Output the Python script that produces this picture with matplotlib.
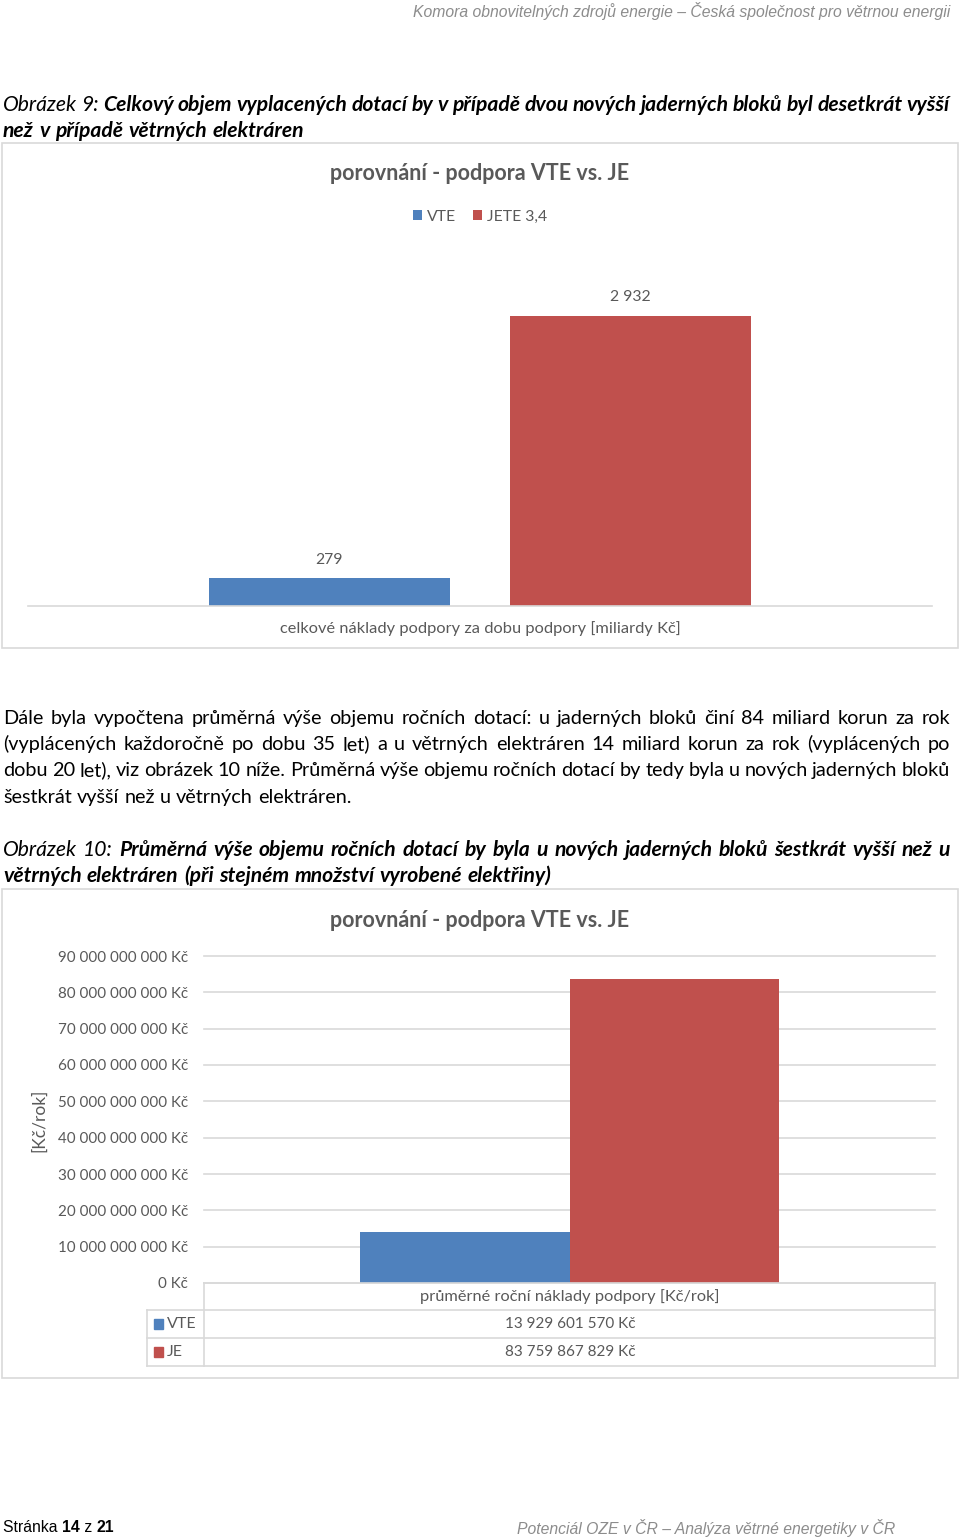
import numpy as np
import matplotlib
matplotlib.use("Agg")
import matplotlib.pyplot as plt
from matplotlib import font_manager
from matplotlib.patches import Rectangle
from matplotlib.lines import Line2D
from matplotlib.ticker import FuncFormatter

W, H = 960, 1538

# ---- data (chart 9: total support, chart 10: average yearly support) ----
TOTAL_SERIES = ["VTE", "JETE 3,4"]
TOTAL_BN = [279, 2932]
TOTAL_CAT = "celkové náklady podpory za dobu podpory [miliardy Kč]"

ANNUAL_SERIES = ["VTE", "JE"]
ANNUAL_KC = [13929601570, 83759867829]
ANNUAL_CAT = "průměrné roční náklady podpory [Kč/rok]"
ANNUAL_TICKS = [0, 1e10, 2e10, 3e10, 4e10, 5e10, 6e10, 7e10, 8e10, 9e10]

CHART_TITLE = "porovnání - podpora VTE vs. JE"
HEADER = "Komora obnovitelných zdrojů energie – Česká společnost pro větrnou energii"
FOOTER_R = "Potenciál OZE v ČR – Analýza větrné energetiky v ČR"
PARAGRAPH = [
    "Dále byla vypočtena průměrná výše objemu ročních dotací: u jaderných bloků činí 84 miliard korun za rok",
    "(vyplácených každoročně po dobu 35 let) a u větrných elektráren 14 miliard korun za rok (vyplácených po",
    "dobu 20 let), viz obrázek 10 níže. Průměrná výše objemu ročních dotací by tedy byla u nových jaderných bloků",
    "šestkrát vyšší než u větrných elektráren.",
]
CAP9 = ("Obrázek 9:", ["Celkový objem vyplacených dotací by v případě dvou nových jaderných bloků byl desetkrát vyšší",
                       "než v případě větrných elektráren"])
CAP10 = ("Obrázek 10:", ["Průměrná výše objemu ročních dotací by byla u nových jaderných bloků šestkrát vyšší než u",
                         "větrných elektráren (při stejném množství vyrobené elektřiny)"])

COLORS = ["#4F81BD", "#C0504D"]
GREY = "#595959"
LINE = "#D9D9D9"

names = {f.name for f in font_manager.fontManager.ttflist}
BODY = ["Lato", "DejaVu Sans"] if "Lato" in names else ["DejaVu Sans"]
NARROW = "Liberation Sans Narrow" if "Liberation Sans Narrow" in names else "Liberation Sans"
NSIZE = 13.1 if NARROW == "Liberation Sans Narrow" else 11.3
plt.rcParams["font.family"] = BODY


def fx(x): return x / W
def fy(y): return 1 - y / H
def kc(v, pos=None): return f"{v:,.0f}".replace(",", " ") + " Kč"


fig = plt.figure(figsize=(W / 100, H / 100), dpi=100)
fig.patch.set_facecolor("white")
rend = fig.canvas.get_renderer()


def draw_line(runs, x0, yc, width=None, size=14.3):
    # runs: list of (text, fontstyle, fontweight); justify to width if given
    yb = fy(yc + 0.34 * size * 100 / 72)
    words = []
    for txt, st, wt in runs:
        for w in txt.split():
            t = fig.text(0, yb, w, fontsize=size, style=st, weight=wt, va="baseline", ha="left")
            words.append((t, t.get_window_extent(rend).width))
    s = fig.text(0, 0, "x x", fontsize=size)
    s2 = fig.text(0, 0, "xx", fontsize=size)
    space = s.get_window_extent(rend).width - s2.get_window_extent(rend).width
    s.remove(); s2.remove()
    total = sum(w for _, w in words)
    gap = (width - total) / (len(words) - 1) if width else space
    x = x0
    for t, w in words:
        t.set_x(fx(x))
        x += w + gap


def box(l, t, r, b):
    fig.add_artist(Rectangle((fx(l), fy(b)), (r - l) / W, (b - t) / H, transform=fig.transFigure,
                             fill=False, ec=LINE, lw=1.2))


def hline(y, x1, x2):
    fig.add_artist(Line2D([fx(x1), fx(x2)], [fy(y), fy(y)], transform=fig.transFigure, color=LINE, lw=1.2))


def vline(x, y1, y2):
    fig.add_artist(Line2D([fx(x), fx(x)], [fy(y1), fy(y2)], transform=fig.transFigure, color=LINE, lw=1.2))


# ---- page header / captions / body text ----
fig.text(fx(950), fy(11), HEADER, family=NARROW, style="italic", fontsize=NSIZE, color="#8C8C8C",
         ha="right", va="center")

for i, line in enumerate(CAP9[1]):
    runs = ([(CAP9[0], "italic", "normal")] if i == 0 else []) + [(line, "italic", "bold")]
    draw_line(runs, 3, 104 + 26 * i, width=947 if i == 0 else None, size=15.2)

for i, line in enumerate(PARAGRAPH):
    draw_line([(line, "normal", "normal")], 3, 717 + 26.3 * i, width=947 if i < 3 else None)

for i, line in enumerate(CAP10[1]):
    runs = ([(CAP10[0], "italic", "normal")] if i == 0 else []) + [(line, "italic", "bold")]
    draw_line(runs, 3, 849 + 26 * i, width=947 if i == 0 else None, size=15.2)

# ---- chart 9 ----
box(2, 143, 958, 648)
fig.text(fx(480), fy(174), CHART_TITLE, fontsize=15.5, weight="bold", color=GREY, ha="center", va="center")
ax1 = fig.add_axes([fx(28), fy(606), (932 - 28) / W, (606 - 260) / H])
offs = [-1 / 6, 1 / 6]
handles = []
for o, v, c, name in zip(offs, TOTAL_BN, COLORS, TOTAL_SERIES):
    b = ax1.bar(o, v, width=0.267, color=c, label=name)
    handles.append(b)
    ax1.annotate(f"{v:,}".replace(",", " "), (o, v), xytext=(0, 13.5), textcoords="offset points",
                 ha="center", va="center", fontsize=11.3, color=GREY)
ax1.set_xlim(-0.5, 0.5)
ax1.set_ylim(0, 3500)
for s in ["top", "right", "left"]:
    ax1.spines[s].set_visible(False)
ax1.spines["bottom"].set_color(LINE)
ax1.spines["bottom"].set_linewidth(1.2)
ax1.set_yticks([])
ax1.set_xticks([0])
ax1.set_xticklabels([TOTAL_CAT], fontsize=11.75, color=GREY)
ax1.tick_params(axis="x", length=0, pad=11)
ax1.legend(handles, TOTAL_SERIES, loc="center", bbox_to_anchor=(0.5, fy(217)), bbox_transform=fig.transFigure,
           ncol=2, frameon=False, fontsize=11.3, labelcolor=GREY, handlelength=0.6, handleheight=0.6,
           handletextpad=0.3, columnspacing=1.05)

# ---- chart 10 ----
box(2, 889, 958, 1378)
fig.text(fx(480), fy(920), CHART_TITLE, fontsize=15.5, weight="bold", color=GREY, ha="center", va="center")
ax2 = fig.add_axes([fx(204), fy(1283), (935 - 204) / W, (1283 - 956) / H])
offs2 = [-0.143, 0.143]
for o, v, c in zip(offs2, ANNUAL_KC, COLORS):
    ax2.bar(o, v, width=0.286, color=c, zorder=2)
ax2.set_xlim(-0.5, 0.5)
ax2.set_ylim(0, ANNUAL_TICKS[-1])
ax2.set_yticks(ANNUAL_TICKS)
ax2.yaxis.set_major_formatter(FuncFormatter(kc))
ax2.tick_params(axis="y", length=0, pad=11.5, labelsize=10.9, labelcolor=GREY)
ax2.set_xticks([])
ax2.grid(axis="y", color=LINE, lw=1.2, zorder=0)
ax2.set_axisbelow(True)
for s in ax2.spines.values():
    s.set_visible(False)
for g in ax2.get_ygridlines():
    g.set_clip_on(False)
fig.text(fx(39), fy(1120), "[Kč/rok]", rotation=90, fontsize=12.5, color=GREY, ha="center", va="center")

# data table under chart 10
hline(1283, 204, 935)
for y in [1310, 1338, 1366]:
    hline(y, 147, 935)
vline(204, 1283, 1366)
vline(935, 1283, 1366)
vline(147, 1310, 1366)
fig.text(fx(570), fy(1297), ANNUAL_CAT, fontsize=11.8, color=GREY, ha="center", va="center")
for i, (name, v, c) in enumerate(zip(ANNUAL_SERIES, ANNUAL_KC, COLORS)):
    yc = 1324 + 28 * i
    fig.add_artist(Rectangle((fx(154), fy(yc + 5)), 9 / W, 10 / H, transform=fig.transFigure, color=c))
    fig.text(fx(167), fy(yc), name, fontsize=11.5, color=GREY, ha="left", va="center")
    fig.text(fx(570), fy(yc), kc(v), fontsize=11.0, color=GREY, ha="center", va="center")

# ---- page footer ----
x = 3
for part, wt in [("Stránka ", "normal"), ("14", "bold"), (" z ", "normal"), ("21", "bold")]:
    t = fig.text(fx(x), fy(1528), part, family=NARROW, fontsize=NSIZE, weight=wt, ha="left", va="center")
    x += t.get_window_extent(rend).width
fig.text(fx(517), fy(1528), FOOTER_R, family=NARROW, style="italic", fontsize=NSIZE, color="#8C8C8C",
         ha="left", va="center")

fig.savefig("out.png", dpi=100, facecolor="white")
